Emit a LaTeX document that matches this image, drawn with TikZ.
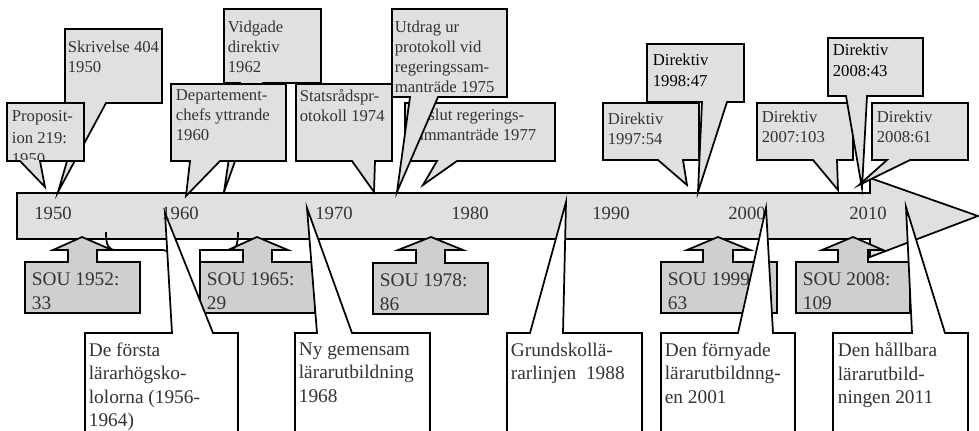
\documentclass[tikz,border=0pt]{standalone}
\usepackage{fontspec}
\setmainfont{Liberation Serif}
\usepackage{tikz}
\usetikzlibrary{positioning}
\usetikzlibrary{calc}
\definecolor{boxgray}{HTML}{E0E0E0}
\definecolor{sougray}{HTML}{CFCFCF}
\definecolor{inkgray}{HTML}{333333}
\tikzset{every picture/.style={line width=1.3pt,line join=miter},
callout/.style={draw=black,fill=boxgray},
soubox/.style={draw=black,fill=sougray},
notebox/.style={draw=black,fill=white},
toptext/.style={anchor=north west,align=left,inner sep=0pt,text=inkgray,font=\fontsize{12.5}{15}\selectfont},
timestext/.style={anchor=north west,align=left,inner sep=0pt,text=black,font=\fontsize{12.5}{16}\selectfont},
bottext/.style={anchor=north west,align=left,inner sep=0pt,text=inkgray,font=\fontsize{14.5}{17.5}\selectfont},
yeartext/.style={inner sep=0pt,text=inkgray,font=\fontsize{14}{16}\selectfont}}

\begin{document}
\begin{tikzpicture}[x=0.75pt,y=-0.75pt]
\clip (0,0) rectangle (979,431);
% tidslinjen
\draw[callout] (17,193) -- (870,193) -- (870,178) -- (978,216) -- (870,257) -- (870,239) -- (17,239) -- cycle;
\foreach \yr/\xp in {1950/53,1960/180,1970/334,1980/470,1990/611,2000/747,2010/868}
  \node[yeartext] (y\yr) at (\xp,213) {\yr};
% SOU
\draw[soubox] (25,262) -- (68,262) -- (68,250) -- (53,250) -- (82,237) -- (112,250) -- (97,250) -- (97,262) -- (140,262) -- (140,313) -- (25,313) -- cycle;
\node[bottext] (sou52) at (31,272) {SOU 1952:\\33};
\draw[soubox] (200,262) -- (243,262) -- (243,250) -- (228,250) -- (257,237) -- (288,250) -- (272,250) -- (272,262) -- (315,262) -- (315,313) -- (200,313) -- cycle;
\node[bottext] (sou65) at (206,272) {SOU 1965:\\29};
\draw[soubox] (373,263) -- (416,263) -- (416,250) -- (398,250) -- (431,237) -- (463,250) -- (445,250) -- (445,263) -- (488,263) -- (488,314) -- (373,314) -- cycle;
\node[bottext] (sou78) at (379,273) {SOU 1978:\\86};
\draw[soubox] (661,262) -- (703,262) -- (703,250) -- (687,250) -- (718,237) -- (750,250) -- (733,250) -- (733,262) -- (777,262) -- (777,313) -- (661,313) -- cycle;
\node[bottext] (sou99) at (667,272) {SOU 1999:\\63};
\draw[soubox] (796,262) -- (838,262) -- (838,250) -- (822,250) -- (853,237) -- (883,250) -- (868,250) -- (868,262) -- (910,262) -- (910,313) -- (796,313) -- cycle;
\node[bottext] (sou08) at (802,272) {SOU 2008:\\109};
% utbildningarna
\draw (106,232) .. controls (106,245) and (108,250) .. (116,250) -- (162,250) .. controls (168,250) and (170,253) .. (171,260);
\draw (238,232) .. controls (238,245) and (236,250) .. (229,250) -- (200,250) -- (200,262);
\draw[notebox] (85,440) -- (85,333) -- (172,333) -- (165,213) -- (213,333) -- (238,333) -- (238,440);
\node[bottext] (forsta) at (88,342) {De första\\lärarhögsko-\\lolorna (1956-\\1964)};
\draw[notebox] (295,440) -- (295,333) -- (317,333) -- (307,208) -- (352,333) -- (430,333) -- (430,440);
\node[bottext] (nygem) at (298,342) {Ny gemensam\\lärarutbildning\\1968};
\draw[notebox] (507,440) -- (507,333) -- (530,333) -- (566,202) -- (563,333) -- (642,333) -- (642,440);
\node[bottext] (grund) at (510,342) {Grundskollä-\\rarlinjen\ \ 1988};
\draw[notebox] (661,440) -- (661,333) -- (738,333) -- (766,208) -- (773,333) -- (795,333) -- (795,440);
\node[bottext] (fornyade) at (664,342) {Den förnyade\\lärarutbildnng-\\en 2001};
\draw[notebox] (833,440) -- (833,333) -- (912,333) -- (906,207) -- (945,333) -- (968,333) -- (968,440);
\node[bottext] (hallbara) at (837,342) {Den hållbara\\lärarutbild-\\ningen 2011};
% beslut och direktiv
\draw[callout] (65,29) -- (162,29) -- (162,103) -- (106,103) -- (58,192) -- (84,103) -- (65,103) -- cycle;
\node[toptext] (skriv) at (67,40) {Skrivelse 404\\1950};
\draw[callout] (7,103) -- (84,103) -- (84,161) -- (40,161) -- (45,187) -- (20,161) -- (7,161) -- cycle;
\begin{scope}
\clip (7,103) rectangle (84,160);
\node[toptext,font=\fontsize{12.5}{16}\selectfont] (prop) at (11,110) {Proposit-\\ion 219:\\1950};
\end{scope}
\draw[callout] (224,9) -- (321,9) -- (321,83) -- (263,83) -- (224,192) -- (240,83) -- (224,83) -- cycle;
\node[toptext] (vidg) at (227,20) {Vidgade\\direktiv\\1962};
\draw[callout] (171,84) -- (286,84) -- (286,161) -- (220,161) -- (186,196) -- (190,161) -- (171,161) -- cycle;
\node[toptext] (dep) at (175,89) {Departement-\\chefs yttrande\\1960};
\draw[callout] (405,103) -- (555,103) -- (555,161) -- (457,161) -- (423,185) -- (437,161) -- (405,161) -- cycle;
\node[toptext] (besl) at (409,108) {Beslut regerings-\\sammanträde 1977};
\draw[callout] (392,9) -- (507,9) -- (507,97) -- (438,97) -- (397,192) -- (410,97) -- (392,97) -- cycle;
\node[toptext] (utdr) at (394,20) {Utdrag ur\\protokoll vid\\regeringssam-\\manträde 1975};
\draw[callout] (296,84) -- (392,84) -- (392,161) -- (375,161) -- (374,192) -- (352,161) -- (296,161) -- cycle;
\node[toptext] (stat) at (299,89) {Statsrådspr-\\otokoll 1974};
\draw[callout] (647,44) -- (744,44) -- (744,102) -- (727,102) -- (698,192) -- (702,102) -- (647,102) -- cycle;
\node[timestext] (dir98) at (652,53) {Direktiv\\1998:47};
\draw[callout] (603,103) -- (699,103) -- (699,160) -- (683,160) -- (687,185) -- (658,160) -- (603,160) -- cycle;
\node[toptext] (dir97) at (607,112) {Direktiv\\1997:54};
\draw[callout] (757,103) -- (853,103) -- (853,160) -- (837,160) -- (838,190) -- (813,160) -- (757,160) -- cycle;
\node[toptext] (dir07) at (761,110) {Direktiv\\2007:103};
\draw[callout] (828,38) -- (923,38) -- (923,96) -- (867,96) -- (862,188) -- (846,96) -- (828,96) -- cycle;
\node[timestext] (dir43) at (832,43) {Direktiv\\2008:43};
\draw[callout] (872,103) -- (968,103) -- (968,160) -- (910,160) -- (859,185) -- (887,160) -- (872,160) -- cycle;
\node[toptext] (dir61) at (876,110) {Direktiv\\2008:61};
\end{tikzpicture}
\end{document}
